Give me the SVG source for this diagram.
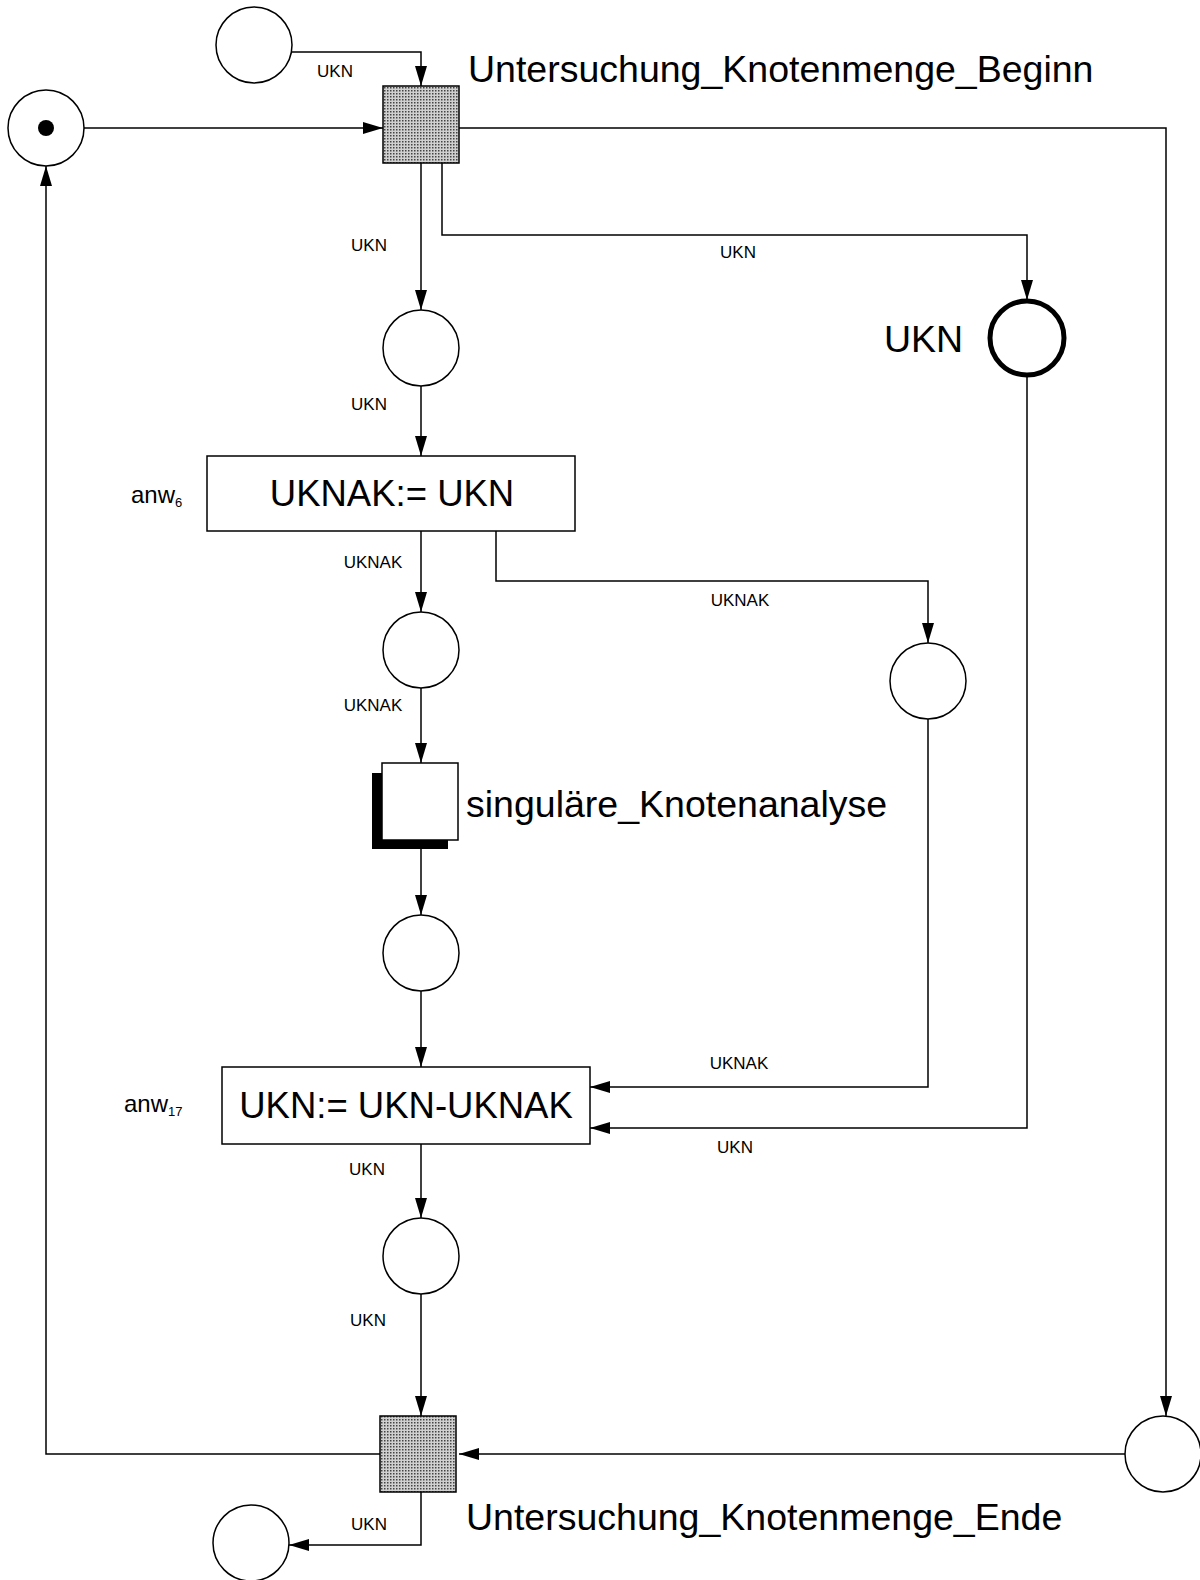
<svg xmlns="http://www.w3.org/2000/svg" width="1200" height="1580" viewBox="0 0 1200 1580">
<style>
.pl{fill:#fff;stroke:#000;stroke-width:1.5}
.plb{fill:#fff;stroke:#000;stroke-width:5}
.box{fill:#fff;stroke:#000;stroke-width:1.5}
.tr{fill:url(#dots);stroke:#000;stroke-width:1.5}
.c{fill:none;stroke:#000;stroke-width:1.5;marker-end:url(#ah)}
.s{font-family:"Liberation Sans",Arial,sans-serif;font-size:17px;text-anchor:middle;fill:#000}
.b{font-family:"Liberation Sans",Arial,sans-serif;font-size:37.5px;fill:#000}
.bb{font-family:"Liberation Sans",Arial,sans-serif;font-size:36.5px;fill:#000;text-anchor:middle}
.m{font-family:"Liberation Sans",Arial,sans-serif;font-size:24px;fill:#000}
</style>
<defs>
<pattern id="dots" width="3" height="3" patternUnits="userSpaceOnUse">
<rect width="3" height="3" fill="#d0d0d0"/>
<rect x="0" y="0" width="1.5" height="1.5" fill="#444"/>
</pattern>
<marker id="ah" markerUnits="userSpaceOnUse" markerWidth="20" markerHeight="12" refX="20" refY="6" orient="auto">
<path d="M0,0 L20,6 L0,12 z" fill="#000"/>
</marker>
</defs>

<g id="connectors">
<path class="c" d="M292,52 H421 V86"/>
<path class="c" d="M84,128 H383"/>
<path class="c" d="M442,163 V235 H1027 V300"/>
<path class="c" d="M421,163 V310"/>
<path class="c" d="M459,128 H1166 V1416"/>
<path class="c" d="M421,386 V456"/>
<path class="c" d="M421,531 V612"/>
<path class="c" d="M496,531 V581 H928 V643"/>
<path class="c" d="M421,688 V763"/>
<path class="c" d="M421,849 V915"/>
<path class="c" d="M421,991 V1067"/>
<path class="c" d="M928,719 V1087 H590"/>
<path class="c" d="M1027,376 V1128 H590"/>
<path class="c" d="M421,1144 V1218"/>
<path class="c" d="M421,1294 V1416"/>
<path class="c" d="M1125,1454 H459"/>
<path class="c" d="M380,1454 H46 V166"/>
<path class="c" d="M421,1492 V1545 H289"/>
<text class="s" x="335" y="77">UKN</text>
<text class="s" x="369" y="251">UKN</text>
<text class="s" x="738" y="258">UKN</text>
<text class="s" x="369" y="410">UKN</text>
<text class="s" x="373" y="568">UKNAK</text>
<text class="s" x="740" y="606">UKNAK</text>
<text class="s" x="373" y="711">UKNAK</text>
<text class="s" x="739" y="1069">UKNAK</text>
<text class="s" x="735" y="1153">UKN</text>
<text class="s" x="367" y="1175">UKN</text>
<text class="s" x="368" y="1326">UKN</text>
<text class="s" x="369" y="1530">UKN</text>
</g>

<g id="p_top">
<circle class="pl" cx="254" cy="45" r="38"/>
</g>
<g id="p_token">
<circle class="pl" cx="46" cy="128" r="38"/>
<circle cx="46" cy="128" r="8" fill="#000"/>
</g>
<g id="t_beginn">
<rect class="tr" x="383" y="86" width="76" height="77"/>
<text class="b" x="468" y="82">Untersuchung_Knotenmenge_Beginn</text>
</g>
<g id="p1">
<circle class="pl" cx="421" cy="348" r="38"/>
</g>
<g id="p_ukn">
<circle class="plb" cx="1027" cy="338" r="37"/>
<text class="b" x="884" y="352">UKN</text>
</g>
<g id="t_anw6">
<rect class="box" x="207" y="456" width="368" height="75"/>
<text class="bb" x="392" y="506">UKNAK:= UKN</text>
<text class="m" x="131" y="503">anw<tspan font-size="13" dy="4">6</tspan></text>
</g>
<g id="p2">
<circle class="pl" cx="421" cy="650" r="38"/>
</g>
<g id="p3">
<circle class="pl" cx="928" cy="681" r="38"/>
</g>
<g id="t_singular">
<rect x="372" y="773" width="76" height="76" fill="#000"/>
<rect class="box" x="382" y="763" width="76" height="77"/>
<text class="b" x="466" y="817">singuläre_Knotenanalyse</text>
</g>
<g id="p4">
<circle class="pl" cx="421" cy="953" r="38"/>
</g>
<g id="t_anw17">
<rect class="box" x="222" y="1067" width="368" height="77"/>
<text class="bb" x="406" y="1118">UKN:= UKN-UKNAK</text>
<text class="m" x="124" y="1112">anw<tspan font-size="13" dy="4">17</tspan></text>
</g>
<g id="p5">
<circle class="pl" cx="421" cy="1256" r="38"/>
</g>
<g id="p_right">
<circle class="pl" cx="1163" cy="1454" r="38"/>
</g>
<g id="t_ende">
<rect class="tr" x="380" y="1416" width="76" height="76"/>
<text class="b" x="466" y="1530">Untersuchung_Knotenmenge_Ende</text>
</g>
<g id="p_out">
<circle class="pl" cx="251" cy="1543" r="38"/>
</g>
</svg>
